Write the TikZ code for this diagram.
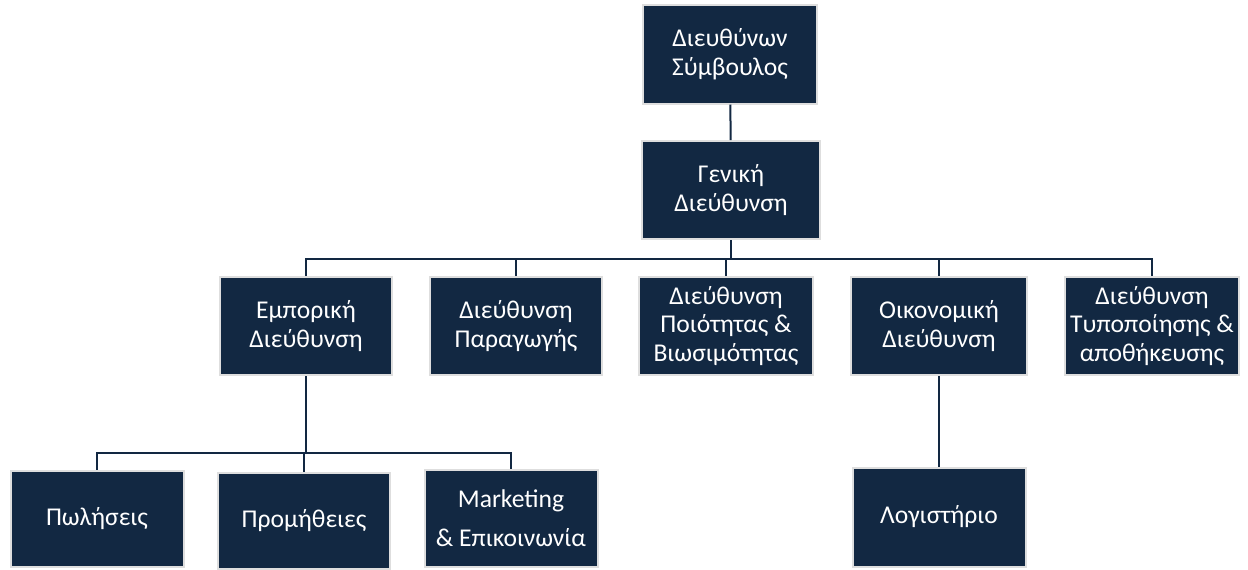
\documentclass[tikz,border=0pt]{standalone}
\usepackage{fontspec}
\setmainfont{Carlito}
\usepackage{xcolor}
\usepackage{tikz}
\usetikzlibrary{positioning, calc}
\definecolor{orgnavy}{RGB}{18,40,66}
\definecolor{orgedge}{RGB}{222,222,222}

\tikzset{
    orgbox/.style={rectangle,draw=orgedge,fill=orgnavy,line width=1pt,text=white,
        align=center,font=\fontsize{12.8}{14.3}\selectfont,inner sep=0.5pt},
    orgline/.style={draw=orgnavy,line width=1pt}
}

\begin{document}
\begin{tikzpicture}[x=0.5pt,y=-0.5pt]
    \useasboundingbox (0,0) rectangle (1248,569);

    % Vertice
    \node[orgbox,minimum width=87pt,minimum height=49.5pt] (ceo) at (730,54) {Διευθύνων\\Σύμβουλος};
    \node[orgbox,minimum width=89pt,minimum height=49pt] (gd) at (731,190) {Γενική\\Διεύθυνση};

    % Διευθύνσεις
    \node[orgbox,minimum width=86pt,minimum height=49pt] (emp) at (306,326) {Εμπορική\\Διεύθυνση};
    \node[orgbox,minimum width=86pt,minimum height=49pt] (par) at (516,326) {Διεύθυνση\\Παραγωγής};
    \node[orgbox,minimum width=87pt,minimum height=49pt] (poi) at (726,326) {Διεύθυνση\\Ποιότητας \&\\Βιωσιμότητας};
    \node[orgbox,minimum width=88pt,minimum height=49pt] (oik) at (939,326) {Οικονομική\\Διεύθυνση};
    \node[orgbox,minimum width=87pt,minimum height=49pt] (typ) at (1152,326) {Διεύθυνση\\Τυποποίησης \&\\αποθήκευσης};

    % Τμήματα
    \node[orgbox,minimum width=86.5pt,minimum height=48pt] (pol) at (97,519) {Πωλήσεις};
    \node[orgbox,minimum width=86pt,minimum height=48pt] (pro) at (304,521) {Προμήθειες};
    \node[orgbox,minimum width=86.5pt,minimum height=48.5pt] (mkt) at (511,518) {Marketing\\[5pt]\& Επικοινωνία};
    \node[orgbox,minimum width=86.5pt,minimum height=49.5pt] (log) at (939,517) {Λογιστήριο};

    % Γραμμές
    \draw[orgline] (ceo) -- (gd);
    \foreach \d in {emp,par,poi,oik,typ}
        \draw[orgline] (gd.south) -- ++(0,19) -| (\d.north);
    \foreach \t in {pol,pro,mkt}
        \draw[orgline] (emp.south) -- ++(0,77) -| (\t.north);
    \draw[orgline] (oik) -- (log);
\end{tikzpicture}
\end{document}
